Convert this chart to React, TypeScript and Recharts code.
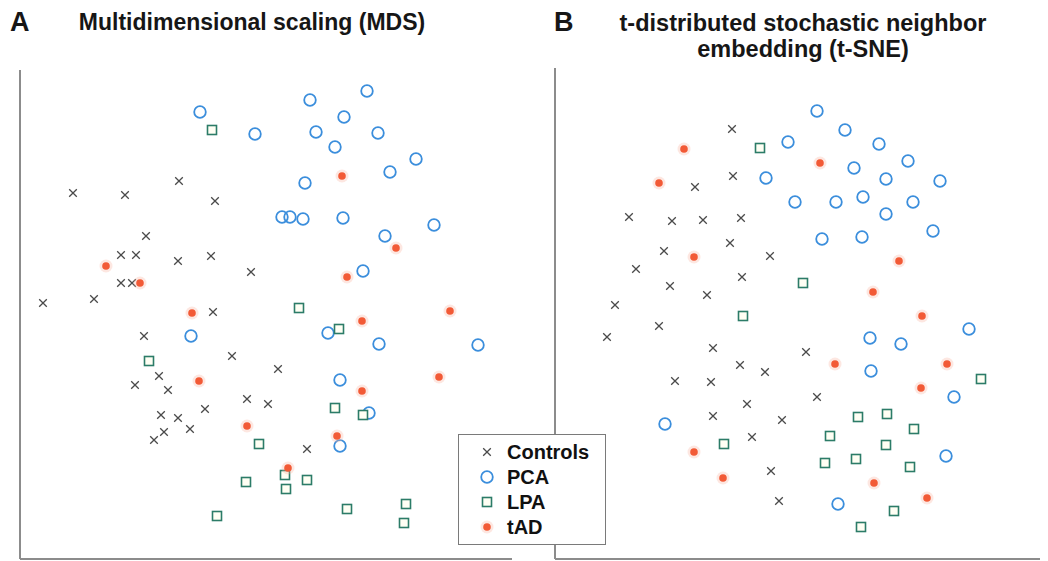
import React from "react";
import { ScatterChart, Scatter, XAxis, YAxis, ReferenceLine } from "recharts";

// Panel A – MDS coordinates (arbitrary units)
const mdsControls = [
  [53, 366], [105, 364], [159, 378], [195, 358], [126, 323], [101, 304], [116, 304], [158, 298],
  [191, 303], [231, 287], [101, 276], [112, 276], [23, 256], [74, 260], [193, 247], [124, 223],
  [212, 203], [258, 190], [139, 183], [115, 174], [148, 169], [227, 160], [248, 155], [185, 150],
  [141, 144], [158, 141], [170, 130], [144, 127], [134, 119], [287, 110],
];
const mdsPCA = [
  [180, 447], [235, 425], [290, 459], [347, 468], [324, 442], [296, 427], [358, 426], [315, 412],
  [396, 400], [370, 387], [285, 376], [262, 342], [270, 342], [283, 340], [323, 341], [414, 334],
  [365, 323], [343, 288], [171, 223], [308, 226], [359, 215], [458, 214], [320, 179], [349, 146],
  [320, 113],
];
const mdsLPA = [
  [192, 429], [279, 251], [129, 198], [319, 230], [315, 151], [343, 144], [239, 115], [265, 84],
  [287, 79], [266, 70], [226, 77], [197, 43], [327, 50], [386, 55], [384, 36],
];
const mdsTAD = [
  [86, 293], [120, 276], [322, 383], [376, 311], [327, 282], [172, 246], [179, 178], [227, 133],
  [342, 238], [430, 248], [419, 182], [342, 168], [317, 123], [268, 91],
];

// Panel B – t-SNE coordinates
const tsneControls = [
  [177, 430], [178, 383], [140, 372], [74, 342], [117, 338], [148, 339], [186, 341], [175, 316],
  [109, 308], [215, 303], [81, 290], [187, 282], [115, 273], [152, 264], [60, 254], [52, 222],
  [104, 233], [158, 211], [185, 194], [210, 187], [120, 178], [156, 177], [192, 155], [158, 143],
  [227, 139], [197, 122], [216, 88], [224, 58], [251, 207], [262, 162],
];
const tsnePCA = [
  [233, 417], [211, 381], [262, 448], [290, 429], [324, 415], [299, 391], [353, 398], [331, 380],
  [385, 378], [240, 357], [281, 357], [308, 362], [358, 357], [331, 345], [267, 320], [307, 322],
  [378, 328], [110, 135], [315, 221], [346, 215], [414, 230], [316, 188], [399, 162], [391, 103],
  [283, 55],
];
const tsneLPA = [
  [205, 411], [248, 276], [188, 243], [169, 115], [426, 180], [303, 142], [332, 145], [359, 130],
  [275, 123], [331, 114], [270, 96], [301, 100], [355, 92], [339, 48], [306, 32],
];
const tsneTAD = [
  [129, 410], [104, 376], [139, 302], [265, 396], [344, 298], [318, 267], [367, 243], [280, 195],
  [392, 195], [366, 171], [139, 107], [168, 81], [319, 76], [372, 61],
];

const groups = ["Controls", "PCA", "LPA", "tAD"];

const toPts = (arr: number[][]) => arr.map(([x, y]) => ({ x, y }));

const FONT = "'Liberation Sans', Arial, Helvetica, sans-serif";
const AXIS = "#8c8c8c";

function CrossShape(props: any) {
  const { cx, cy } = props;
  const d = 3.8;
  return (
    <path
      d={`M${cx - d},${cy - d}L${cx + d},${cy + d}M${cx + d},${cy - d}L${cx - d},${cy + d}`}
      stroke="#4a4a4a"
      strokeWidth={1.3}
      fill="none"
    />
  );
}

function CircleShape(props: any) {
  const { cx, cy } = props;
  return <circle cx={cx} cy={cy} r={5.8} stroke="#3b8edc" strokeWidth={1.8} fill="none" />;
}

function SquareShape(props: any) {
  const { cx, cy } = props;
  return <rect x={cx - 4.5} y={cy - 4.5} width={9} height={9} stroke="#2c7c68" strokeWidth={1.6} fill="#fffff4" />;
}

function DotShape(props: any) {
  const { cx, cy } = props;
  return (
    <g>
      <circle cx={cx} cy={cy} r={6.5} fill="#f9b09a" opacity={0.3} />
      <circle cx={cx} cy={cy} r={3.8} fill="#f25a36" />
    </g>
  );
}

const shapes = [CrossShape, CircleShape, SquareShape, DotShape];

function Panel({ data, width, xMax, yMax, top }: { data: number[][][]; width: number; xMax: number; yMax: number; top: number }) {
  return (
    <ScatterChart width={width} height={561} margin={{ top, right: 8, left: 20, bottom: 2 }}>
      <XAxis type="number" dataKey="x" domain={[0, xMax]} hide allowDataOverflow />
      <YAxis type="number" dataKey="y" domain={[0, yMax]} hide allowDataOverflow />
      <ReferenceLine x={0} stroke={AXIS} strokeWidth={2} ifOverflow="visible" />
      <ReferenceLine y={0} stroke={AXIS} strokeWidth={2} ifOverflow="visible" />
      {data.map((arr, i) => (
        <Scatter key={groups[i]} name={groups[i]} data={toPts(arr)} shape={shapes[i]} isAnimationActive={false} />
      ))}
    </ScatterChart>
  );
}

function LegendBox() {
  return (
    <div
      style={{
        position: "absolute",
        left: 458,
        top: 434,
        width: 146,
        height: 109,
        border: "1.5px solid #7a7a7a",
        background: "#fff",
      }}
    >
      <svg width={146} height={109} style={{ display: "block" }}>
        {groups.map((g, i) => {
          const S = shapes[i];
          const cy = 17 + i * 25;
          return (
            <g key={g}>
              <S cx={28} cy={cy} />
              <text x={48} y={cy + 7} fontFamily={FONT} fontWeight="bold" fontSize={20} fill="#111">
                {g}
              </text>
            </g>
          );
        })}
      </svg>
    </div>
  );
}

export default function App() {
  const titleStyle: React.CSSProperties = {
    position: "absolute",
    fontFamily: FONT,
    fontWeight: "bold",
    color: "#161616",
    textAlign: "center",
    whiteSpace: "nowrap",
  };
  return (
    <div style={{ position: "fixed", left: 0, top: 0, width: 1048, height: 561, background: "#fff", overflow: "hidden" }}>
      <div style={{ position: "absolute", left: 0, top: 0 }}>
        <Panel data={[mdsControls, mdsPCA, mdsLPA, mdsTAD]} width={520} xMax={492} yMax={489} top={70} />
      </div>
      <div style={{ position: "absolute", left: 535, top: 0 }}>
        <Panel data={[tsneControls, tsnePCA, tsneLPA, tsneTAD]} width={513} xMax={485} yMax={491} top={68} />
      </div>
      <div style={{ ...titleStyle, left: 10, top: 9, fontSize: 27, lineHeight: "27px", textAlign: "left" }}>A</div>
      <div style={{ ...titleStyle, left: 52, top: 10.5, width: 400, fontSize: 23, lineHeight: "23px" }}>
        Multidimensional scaling (MDS)
      </div>
      <div style={{ ...titleStyle, left: 554, top: 9, fontSize: 27, lineHeight: "27px", textAlign: "left" }}>B</div>
      <div style={{ ...titleStyle, left: 553, top: 10, width: 500, fontSize: 23.5, lineHeight: "26px" }}>
        t-distributed stochastic neighbor
        <br />
        embedding (t-SNE)
      </div>
      <LegendBox />
    </div>
  );
}
